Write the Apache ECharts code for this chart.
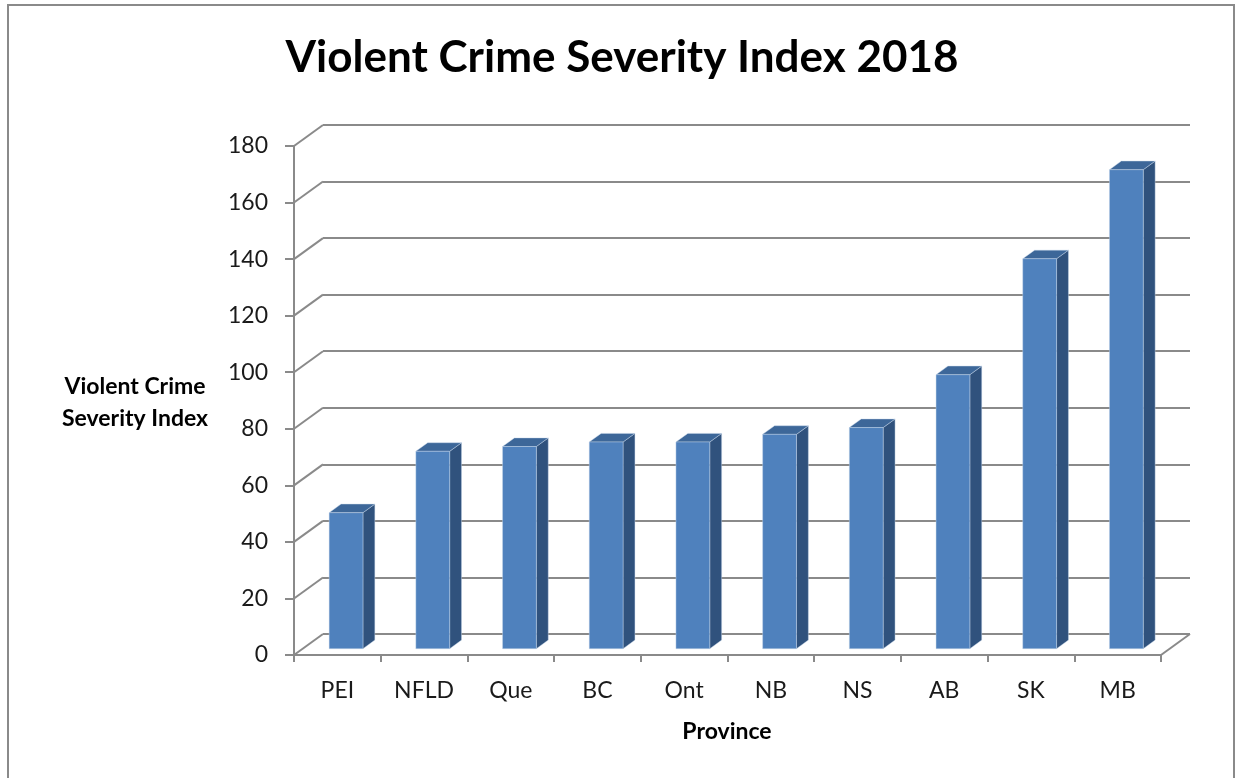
<!DOCTYPE html>
<html>
<head>
<meta charset="utf-8">
<script src="https://cdn.jsdelivr.net/npm/echarts@6/dist/echarts.min.js"></script>
<style>
  html, body { margin: 0; padding: 0; background: #fff; }
  #chart { width: 1235px; height: 778px; }
</style>
</head>
<body>
<div id="chart"></div>
<script>
// Violent Crime Severity Index by province, 2018
const categories = ['PEI', 'NFLD', 'Que', 'BC', 'Ont', 'NB', 'NS', 'AB', 'SK', 'MB'];
const severityIndex = [48.1, 69.8, 71.5, 73.1, 73.1, 75.8, 78.2, 96.9, 137.9, 169.4];
const yTicks = [0, 20, 40, 60, 80, 100, 120, 140, 160, 180];

const FONT = 'Lato, "Open Sans", sans-serif';
const GRID_COLOR = '#8a8a8a';

// Oblique depth of the 3D box: offset of the back wall from the front plane (px)
const FRONT = { left: 294, top: 146, width: 867, height: 509 };
const DEPTH = [29, -21];
const BACK = { left: FRONT.left + DEPTH[0], top: FRONT.top + DEPTH[1], width: FRONT.width, height: FRONT.height };

// Where the columns sit inside the depth of the box (fraction of DEPTH)
const BAR_FRONT = 0.30;
const BAR_BACK = 0.71;
const BAR_WIDTH = 0.39; // fraction of the category band

const FACE_FRONT = '#4f81bd';
const FACE_TOP = '#3d6799';
const FACE_SIDE = '#30527d';

const chart = echarts.init(document.getElementById('chart'));

function renderColumn(params, api) {
  const i = api.value(0);
  const v = api.value(1);
  const top = api.coord([i, v]);
  const base = api.coord([i, 0]);
  const band = api.size([1, 0])[0];
  const w = band * BAR_WIDTH;
  const ox = DEPTH[0] * BAR_FRONT, oy = DEPTH[1] * BAR_FRONT;
  const dx = DEPTH[0] * (BAR_BACK - BAR_FRONT), dy = DEPTH[1] * (BAR_BACK - BAR_FRONT);
  const x0 = top[0] - w / 2 + ox;
  const x1 = x0 + w;
  const yT = top[1] + oy;
  const yB = base[1] + oy;
  const edge = { stroke: 'rgba(200,215,235,0.55)', lineWidth: 0.8 };
  return {
    type: 'group',
    children: [
      {
        type: 'polygon',
        shape: { points: [[x1, yT], [x1 + dx, yT + dy], [x1 + dx, yB + dy], [x1, yB]] },
        style: Object.assign({ fill: FACE_SIDE }, edge)
      },
      {
        type: 'polygon',
        shape: { points: [[x0, yT], [x0 + dx, yT + dy], [x1 + dx, yT + dy], [x1, yT]] },
        style: Object.assign({ fill: FACE_TOP }, edge)
      },
      {
        type: 'rect',
        shape: { x: x0, y: yT, width: w, height: yB - yT },
        style: Object.assign({ fill: FACE_FRONT }, edge)
      }
    ]
  };
}

// Diagonal edges joining the front value axis to the back-wall gridlines, plus the floor's right edge
function renderConnector(params, api) {
  const v = api.value(1);
  const cs = params.coordSys;
  const y = api.coord([0, v])[1];
  const lineStyle = { stroke: GRID_COLOR, lineWidth: 2 };
  const children = [{
    type: 'line',
    shape: { x1: cs.x, y1: y, x2: cs.x + DEPTH[0], y2: y + DEPTH[1] },
    style: lineStyle
  }];
  if (v === 0) {
    children.push({
      type: 'line',
      shape: { x1: cs.x + cs.width, y1: y, x2: cs.x + cs.width + DEPTH[0], y2: y + DEPTH[1] },
      style: lineStyle
    });
  }
  return { type: 'group', children: children };
}

const option = {
  backgroundColor: '#ffffff',
  animation: false,
  grid: [
    Object.assign({ containLabel: false }, FRONT),
    Object.assign({ containLabel: false }, BACK)
  ],
  xAxis: [
    {
      type: 'category',
      gridIndex: 0,
      data: categories,
      boundaryGap: true,
      axisLine: { show: true, lineStyle: { color: GRID_COLOR, width: 2 } },
      axisTick: { show: true, interval: 0, length: 7, lineStyle: { color: GRID_COLOR, width: 2 } },
      axisLabel: { interval: 0, margin: 24, fontFamily: FONT, fontSize: 23, color: '#1a1a1a' },
      splitLine: { show: false }
    },
    {
      type: 'category',
      gridIndex: 1,
      data: categories,
      show: false
    }
  ],
  yAxis: [
    {
      type: 'value',
      gridIndex: 0,
      min: 0,
      max: 180,
      interval: 20,
      axisLine: { show: true, lineStyle: { color: GRID_COLOR, width: 2 } },
      axisTick: { show: true, length: 9, lineStyle: { color: GRID_COLOR, width: 2 } },
      axisLabel: { margin: 26, fontFamily: FONT, fontSize: 23, color: '#1a1a1a' },
      splitLine: { show: false }
    },
    {
      type: 'value',
      gridIndex: 1,
      min: 0,
      max: 180,
      interval: 20,
      axisLine: { show: false },
      axisTick: { show: false },
      axisLabel: { show: false },
      splitLine: { show: true, lineStyle: { color: GRID_COLOR, width: 2 } }
    }
  ],
  series: [
    {
      type: 'custom',
      name: 'edges',
      xAxisIndex: 0,
      yAxisIndex: 0,
      silent: true,
      z: 1,
      data: yTicks.map(function (v) { return [0, v]; }),
      renderItem: renderConnector
    },
    {
      type: 'custom',
      name: 'Violent Crime Severity Index',
      xAxisIndex: 0,
      yAxisIndex: 0,
      z: 5,
      data: severityIndex.map(function (v, i) { return [i, v]; }),
      renderItem: renderColumn
    }
  ],
  graphic: [
    {
      type: 'rect',
      silent: true,
      shape: { x: 8, y: 5, width: 1226, height: 820 },
      style: { fill: 'none', stroke: '#8a8a8a', lineWidth: 2 }
    },
    {
      type: 'text',
      x: 622, y: 58,
      style: {
        text: 'Violent Crime Severity Index 2018',
        font: 'bold 44px ' + FONT,
        fill: '#000',
        textAlign: 'center',
        textVerticalAlign: 'middle'
      }
    },
    {
      type: 'text',
      x: 135, y: 403,
      style: {
        text: 'Violent Crime\nSeverity Index',
        font: 'bold 23px ' + FONT,
        lineHeight: 32,
        fill: '#000',
        textAlign: 'center',
        textVerticalAlign: 'middle'
      }
    },
    {
      type: 'text',
      x: 727, y: 732,
      style: {
        text: 'Province',
        font: 'bold 23px ' + FONT,
        fill: '#000',
        textAlign: 'center',
        textVerticalAlign: 'middle'
      }
    }
  ]
};

chart.setOption(option);
</script>
</body>
</html>
